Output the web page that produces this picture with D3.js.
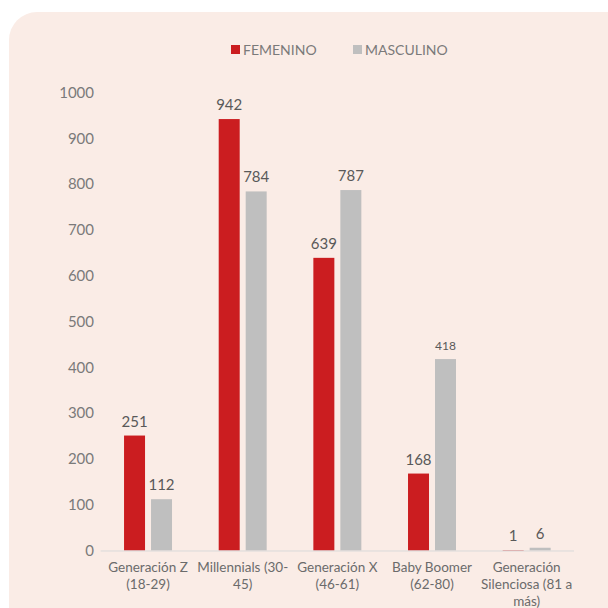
<!DOCTYPE html>
<html>
<head>
<meta charset="utf-8">
<script src="https://cdn.jsdelivr.net/npm/d3@7"></script>
<style>
  html, body { margin: 0; padding: 0; background: #ffffff; }
  svg { display: block; font-family: Lato, "Open Sans", sans-serif; }
</style>
</head>
<body>
<div id="chart"></div>
<script>
// data
const categories = ["Generación Z\n(18-29)", "Millennials (30-\n45)", "Generación X\n(46-61)", "Baby Boomer\n(62-80)", "Generación\nSilenciosa (81 a\nmás)"];
const series = ["FEMENINO", "MASCULINO"];
const femenino = [251, 942, 639, 168, 1];
const masculino = [112, 784, 787, 418, 6];
const yTicks = [0, 100, 200, 300, 400, 500, 600, 700, 800, 900, 1000];

const colors = { FEMENINO: "#cb1d20", MASCULINO: "#bfbfbf" };
const width = 608, height = 608;

const svg = d3.select("#chart").append("svg")
    .attr("width", width)
    .attr("height", height);

// rounded panel behind the chart
svg.append("rect")
    .attr("x", 9).attr("y", 12)
    .attr("width", 640).attr("height", 640)
    .attr("rx", 28).attr("ry", 28)
    .attr("fill", "#faece6");

const rows = categories.map((c, i) => ({ cat: c, FEMENINO: femenino[i], MASCULINO: masculino[i] }));

const x0 = d3.scaleBand().domain(categories).range([100.7, 574]).padding(0);
const x1 = d3.scaleBand().domain(series).range([0, x0.bandwidth()])
    .paddingInner(0.222).paddingOuter(0.865);
const y = d3.scaleLinear().domain([0, 1000]).range([550.5, 92.5]);

// y tick labels, no axis line
const yAxis = svg.append("g")
    .attr("transform", "translate(94,0)")
    .call(d3.axisLeft(y).tickValues(yTicks).tickFormat(d3.format("d")).tickSize(0).tickPadding(0));
yAxis.select(".domain").remove();
yAxis.selectAll("text")
    .attr("fill", "#7a7a7a")
    .style("font-size", "15px")
    .style("font-family", "Lato, sans-serif");

// bars
const groups = svg.append("g").selectAll("g")
    .data(rows)
    .join("g")
    .attr("transform", d => `translate(${x0(d.cat)},0)`);

groups.selectAll("rect")
    .data(d => series.map(s => ({ key: s, value: d[s] })))
    .join("rect")
    .attr("x", d => x1(d.key))
    .attr("width", x1.bandwidth())
    .attr("y", d => y(d.value))
    .attr("height", d => y(0) - y(d.value))
    .attr("fill", d => colors[d.key]);

groups.selectAll("text.val")
    .data(d => series.map(s => ({ key: s, value: d[s] })))
    .join("text")
    .attr("class", "val")
    .attr("x", d => x1(d.key) + x1.bandwidth() / 2)
    .attr("y", d => y(d.value) - 9)
    .attr("text-anchor", "middle")
    .attr("fill", "#595959")
    .style("font-size", d => d.value === 418 ? "12px" : "15px")
    .text(d => d.value);

// baseline
svg.append("line")
    .attr("x1", 100.7).attr("x2", 574)
    .attr("y1", y(0) + 0.5).attr("y2", y(0) + 0.5)
    .attr("stroke", "#d9d9d9")
    .attr("stroke-width", 1);

// category labels
const catLabels = svg.append("g").selectAll("text")
    .data(categories)
    .join("text")
    .attr("x", d => x0(d) + x0.bandwidth() / 2)
    .attr("y", 572)
    .attr("text-anchor", "middle")
    .attr("fill", "#6b6b6b")
    .style("font-size", "13.5px");
catLabels.selectAll("tspan")
    .data(d => d.split("\n"))
    .join("tspan")
    .attr("x", function() { return d3.select(this.parentNode).attr("x"); })
    .attr("dy", (d, i) => i === 0 ? 0 : 17)
    .text(d => d);

// legend
const legend = svg.append("g");
const legendX = [231, 353];
series.forEach((s, i) => {
    legend.append("rect")
        .attr("x", legendX[i]).attr("y", 45)
        .attr("width", 9).attr("height", 9)
        .attr("fill", colors[s]);
    legend.append("text")
        .attr("x", legendX[i] + 12).attr("y", 55)
        .attr("fill", "#7a7a7a")
        .style("font-size", "14px")
        .text(s);
});
</script>
</body>
</html>
